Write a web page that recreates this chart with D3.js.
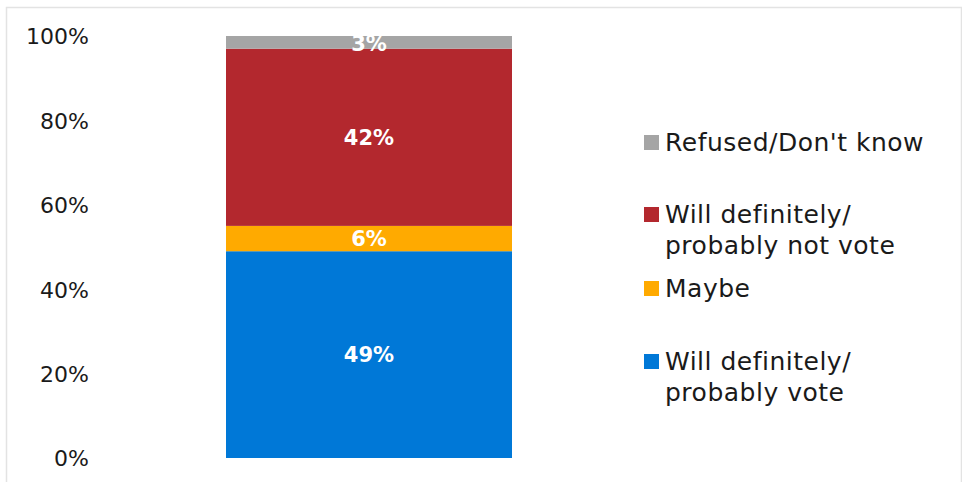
<!DOCTYPE html>
<html>
<head>
<meta charset="utf-8">
<script src="https://cdn.jsdelivr.net/npm/d3@7"></script>
<style>
  html, body { margin: 0; padding: 0; background: #fff; }
  svg { display: block; }
  text { font-family: "DejaVu Sans", sans-serif; }
</style>
</head>
<body>
<svg id="chart" width="962" height="482"></svg>
<script>
// Stacked shares, bottom to top
const categories = ["Will definitely/ probably vote", "Maybe", "Will definitely/ probably not vote", "Refused/Don't know"];
const values = [49, 6, 42, 3];
const colors = ["#0078D7", "#FFAA00", "#B3282E", "#A5A5A5"];
// Legend lines (top to bottom order in legend)
const legendLines = [
  ["Refused/Don't know"],
  ["Will definitely/", "probably not vote"],
  ["Maybe"],
  ["Will definitely/", "probably vote"]
];
const legendIndex = [3, 2, 1, 0];
const tickValues = [0, 20, 40, 60, 80, 100];

const svg = d3.select("#chart");

// outer frame
svg.append("rect")
  .attr("x", 6.5).attr("y", 7.5)
  .attr("width", 955).attr("height", 480)
  .attr("fill", "none")
  .attr("stroke", "#e3e3e3")
  .attr("stroke-width", 1.5);

const y = d3.scaleLinear().domain([0, 100]).range([458, 36]);
const x = d3.scaleBand().domain(["all"]).range([226, 512]).padding(0);

// y axis labels only (no line, no ticks)
const yAxis = d3.axisLeft(y)
  .tickValues(tickValues)
  .tickFormat(d => d + "%")
  .tickSize(0)
  .tickPadding(0);
const gy = svg.append("g").attr("transform", "translate(89,0)").call(yAxis);
gy.select(".domain").remove();
gy.selectAll("text")
  .attr("font-size", 22)
  .attr("font-family", "DejaVu Sans, sans-serif")
  .attr("fill", "#1a1a1a")
  .attr("dy", "0.36em");

// stack segments
let acc = 0;
const segs = values.map((v, i) => {
  const s = { v, i, y0: acc, y1: acc + v };
  acc += v;
  return s;
});

svg.append("g").selectAll("rect")
  .data(segs)
  .join("rect")
  .attr("x", x("all"))
  .attr("width", x.bandwidth())
  .attr("y", d => y(d.y1))
  .attr("height", d => y(d.y0) - y(d.y1))
  .attr("fill", d => colors[d.i]);

svg.append("g").selectAll("text")
  .data(segs)
  .join("text")
  .attr("x", x("all") + x.bandwidth() / 2)
  .attr("y", d => y((d.y0 + d.y1) / 2) + (d.v < 5 ? 1 : 0))
  .attr("dy", "0.36em")
  .attr("text-anchor", "middle")
  .attr("font-size", 21)
  .attr("font-weight", "bold")
  .attr("fill", "#fff")
  .text(d => d.v + "%");

// legend
const legendY = [142, 214, 288, 361];
const lg = svg.append("g");
legendIndex.forEach((ci, k) => {
  const cy = legendY[k];
  lg.append("rect")
    .attr("x", 644).attr("y", cy - 7)
    .attr("width", 15).attr("height", 15)
    .attr("fill", colors[ci]);
  legendLines[k].forEach((line, j) => {
    lg.append("text")
      .attr("x", 665)
      .attr("y", cy + j * 31)
      .attr("dy", "0.36em")
      .attr("font-size", 25)
      .attr("letter-spacing", 0.5)
      .attr("fill", "#1a1a1a")
      .text(line);
  });
});
</script>
</body>
</html>
